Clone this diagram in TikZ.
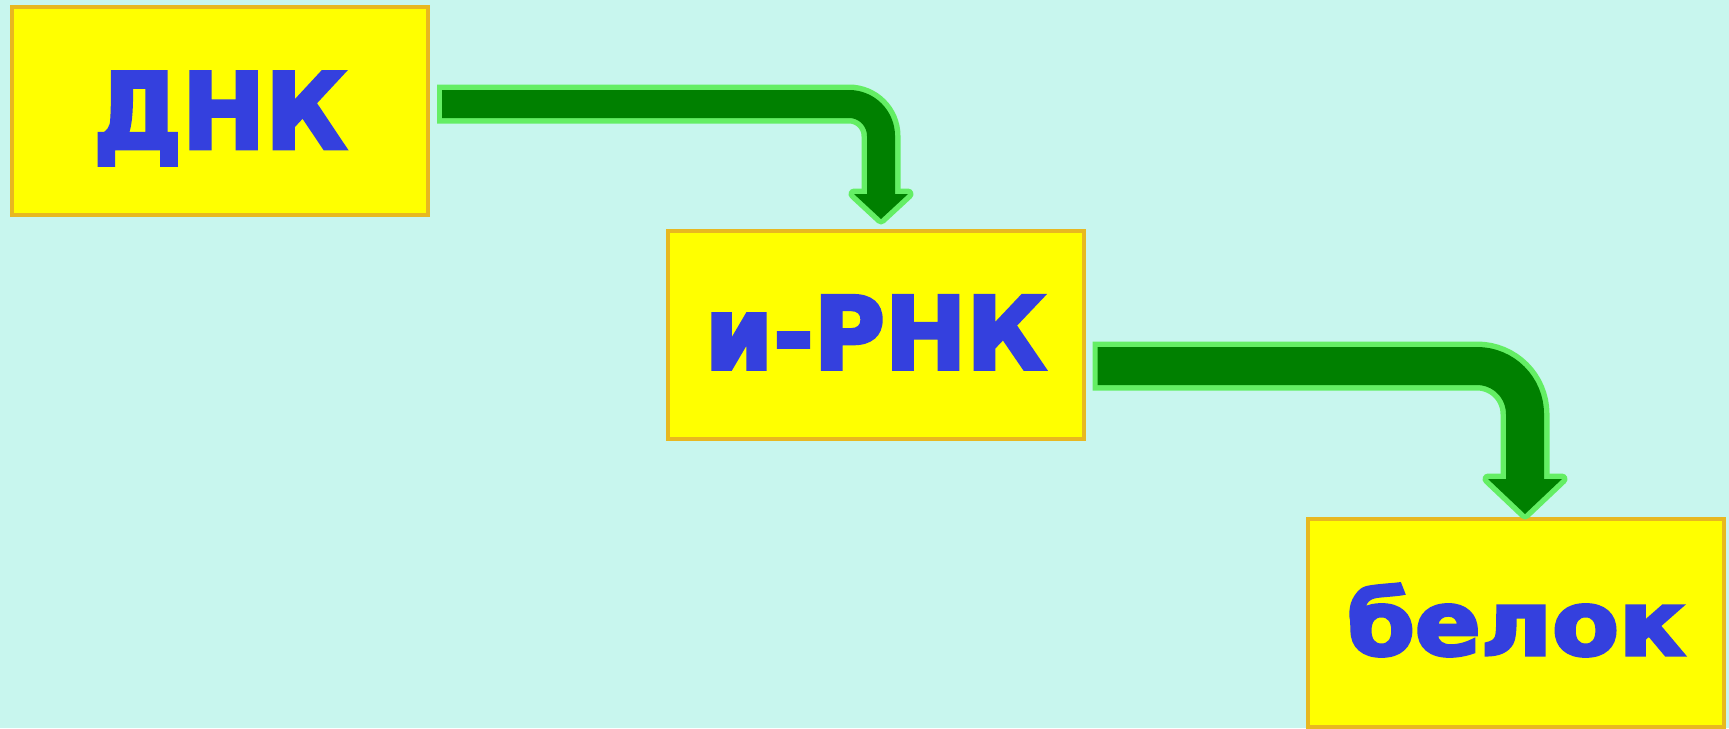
\documentclass[tikz,border=0pt]{standalone}
\usepackage{fontspec}
\usepackage{graphicx}
\setmainfont{DejaVu Sans}
\newfontfamily\heavyfont[FakeBold=3.5]{DejaVu Sans Bold}
\usetikzlibrary{calc}
\definecolor{bgc}{RGB}{200,246,238}
\definecolor{boxfill}{RGB}{255,255,0}
\definecolor{boxline}{RGB}{232,184,32}
\definecolor{txtc}{RGB}{52,64,222}
\definecolor{dkgreen}{RGB}{0,128,0}
\definecolor{ltgreen}{RGB}{100,238,100}
\newcommand\greenarrow[6]{%
  \draw[draw=ltgreen, line width=#3+11pt, rounded corners=#4] ($(#1)+(-5,0)$) -| (#2);
  \draw[draw=ltgreen, fill=ltgreen, line width=11pt, line join=round] ($(#2)+(-#5,0)$) -- ($(#2)+(#5,0)$) -- ($(#2)+(0,#6)$) -- cycle;
  \draw[draw=dkgreen, line width=#3, rounded corners=#4] (#1) -| ($(#2)+(0,4)$);
  \fill[dkgreen] ($(#2)+(-#5,0)$) -- ($(#2)+(#5,0)$) -- ($(#2)+(0,#6)$) -- cycle;
}
\begin{document}
\begin{tikzpicture}[x=1pt,y=-1pt,
  term/.style={draw=boxline, fill=boxfill, line width=4pt, inner sep=0pt,
    minimum width=416pt, minimum height=208pt, text=txtc,
    font=\fontsize{107}{110}\heavyfont, text height=78pt, text depth=0pt}]
\useasboundingbox (0,0) rectangle (1729,728);
\fill[bgc] (0,0) rectangle (1729,728);
\node[term] (dna) at (220,111) {\raisebox{1.5pt}{\scalebox{0.93}[0.98]{ДНК}}};
\node[term] (rna) at (875.5,335) {\raisebox{5pt}{\scalebox{0.91}[0.94]{и-РНК}}};
\node[term] (prot) at (1516,623) {\raisebox{7pt}{\scalebox{0.91}[0.84]{белок}}};
\coordinate (a1s) at ($(dna.east)+(12,-7)$);
\coordinate (a1e) at ($(rna.north)+(5.5,-35)$);
\coordinate (a2s) at ($(rna.east)+(12,31)$);
\coordinate (a2e) at ($(prot.north)+(9,-38)$);
\greenarrow{a1s}{a1e}{28pt}{32pt}{27}{25}
\greenarrow{a2s}{a2e}{38pt}{48pt}{37}{35}
\end{tikzpicture}
\end{document}
